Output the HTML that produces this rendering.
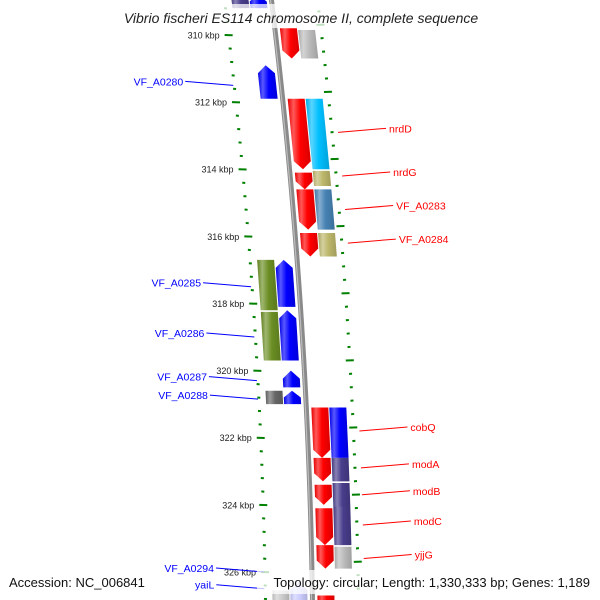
<!DOCTYPE html>
<html><head><meta charset="utf-8">
<style>
html,body{margin:0;padding:0;background:#fff;}
svg{display:block;font-family:"Liberation Sans","DejaVu Sans",sans-serif;}
</style></head>
<body>
<svg id="map" width="600" height="600" viewBox="0 0 600 600" xmlns="http://www.w3.org/2000/svg">
<defs id="defs"></defs>
<g id="backbone-layer"></g>
<g id="ticks-layer"></g>
<g id="genes-layer"></g>
<g id="labels-layer"></g>
<g id="text-layer"></g>
</svg>
<script>
// ---- data ----
const geneNames  = ["g1","g2","g3","g4","g5","g6","g7","g8","g9","g10","g11",
  "r2a","r2b","r2c","r2d","r2e","r2f","r2g","r2h","r2i","r2j",
  "l1a","l1b","l1c","l1d","l1e","l1f","l1g",
  "l2a","l2b","l2c","l2d","l2e"];
const geneStart  = [309.8,311.9,314.1,314.6,315.9,321.1,322.6,323.4,324.1,325.2,326.7,
  309.85,311.9,314.05,314.6,315.9,321.1,322.6,323.35,324.05,325.25,
  308.8,310.9,316.7,318.2,320.0,320.6,326.3,
  308.8,316.7,318.25,320.6,326.55];
const geneEnd    = [310.7,314.0,314.6,315.8,316.6,322.6,323.3,324.0,325.2,325.9,327.2,
  310.7,314.0,314.5,315.8,316.6,322.6,323.3,324.05,325.2,325.9,
  309.2,311.9,318.1,319.7,320.5,321.0,327.2,
  309.2,318.2,319.7,321.0,327.2];
const geneTrack  = [1,1,1,1,1,1,1,1,1,1,1, 2,2,2,2,2,2,2,2,2,2, -1,-1,-1,-1,-1,-1,-1, -2,-2,-2,-2,-2];
const geneStrand = [-1,-1,-1,-1,-1,-1,-1,-1,-1,-1,-1, 0,0,0,0,0,0,0,0,0,0, 1,1,1,1,1,1,1, 0,0,0,0,0];
const geneColor  = ["#ff0000","#ff0000","#ff0000","#ff0000","#ff0000","#ff0000","#ff0000","#ff0000","#ff0000","#ff0000","#ff0000",
  "#bbbbbb","#00bfff","#bdb76b","#4682b4","#bdb76b","#0000ff","#483d8b","#483d8b","#483d8b","#bbbbbb",
  "#0000ff","#0000ff","#0000ff","#0000ff","#0000ff","#0000ff","#ccccff",
  "#483d8b","#6b8e23","#6b8e23","#666666","#cccccc"];
const majorTicks = [310,312,314,316,318,320,322,324,326];
const tickLabels = ["310 kbp","312 kbp","314 kbp","316 kbp","318 kbp","320 kbp","322 kbp","324 kbp","326 kbp"];
const labelText  = ["VF_A0280","VF_A0285","VF_A0286","VF_A0287","VF_A0288","VF_A0294","yaiL",
  "nrdD","nrdG","VF_A0283","VF_A0284","cobQ","modA","modB","modC","yjjG"];
const labelKbp   = [311.5,317.5,319.0,320.3,320.85,326.0,326.5,
  312.9,314.2,315.2,316.2,321.8,322.9,323.7,324.6,325.6];
const labelSide  = [-1,-1,-1,-1,-1,-1,-1, 1,1,1,1,1,1,1,1,1];

// ---- axis functions ----
const KBP0 = 310, Y0 = 35, PX = 33.56;
function yOf(k){ return Y0 + (k-KBP0)*PX; }
function cx(y){ return 271.5 + 0.1217*y - 0.000089*y*y; }
const trackX = {"1":[5,22],"2":[23,40],"-1":[-22,-5],"-2":[-40,-23]};
const NS="http://www.w3.org/2000/svg";
function mk(tag, attrs, parent){ const e=document.createElementNS(NS,tag); for(const k in attrs) e.setAttribute(k,attrs[k]); parent.appendChild(e); return e; }
function P(dx,y){ return (cx(y)+dx).toFixed(2)+","+y.toFixed(2); }

// backbone
const bb=document.getElementById('backbone-layer');
let pts=[]; for(let y=-5;y<=605;y+=10) pts.push(P(0,y));
const bbl=mk('polyline',{points:pts.join(' '),fill:'none',stroke:'#8a8a8a','stroke-width':5},bb);


pts=[]; for(let y=-5;y<=605;y+=10) pts.push(P(-1,y));
mk('polyline',{points:pts.join(' '),fill:'none',stroke:'#bdbdbd','stroke-width':1.2},bb);

// ticks
const tl=document.getElementById('ticks-layer');
for(let k=308.8;k<=327.2;k+=0.4){
  const y=yOf(k); const isMaj = majorTicks.some(m=>Math.abs(m-k)<0.05);
  const w=isMaj?8:3;
  const t=mk('line',{x1:cx(y)-47-w/2,x2:cx(y)-47+w/2,y1:y,y2:y+0.3,stroke:'#008000','stroke-width':2},tl);
  
  
}
for(let k=308.9;k<=327.2;k+=0.4){
  const y=yOf(k); const isMaj = Math.abs(((k-311.7)%2+2)%2)<0.05 || Math.abs(((k-311.7)%2+2)%2-2)<0.05;
  const w=isMaj?8:3;
  const t=mk('line',{x1:cx(y)+46-w/2,x2:cx(y)+46+w/2,y1:y,y2:y-0.3,stroke:'#008000','stroke-width':2},tl);
  
  
}
majorTicks.forEach((m,i)=>{
  const y=yOf(m);
  const t=mk('text',{x:cx(y)-56,y:y+3.5,'text-anchor':'end','font-size':9,fill:'#222'},tl);
  t.textContent=tickLabels[i];
  
  
});

// genes
const defs=document.getElementById('defs');
function lighten(hex,a){ const n=parseInt(hex.slice(1),16); let r=n>>16,g=(n>>8)&255,b=n&255;
  r=Math.round(r+(255-r)*a); g=Math.round(g+(255-g)*a); b=Math.round(b+(255-b)*a); return `rgb(${r},${g},${b})`; }
function darken(hex,a){ const n=parseInt(hex.slice(1),16); let r=n>>16,g=(n>>8)&255,b=n&255;
  return `rgb(${Math.round(r*(1-a))},${Math.round(g*(1-a))},${Math.round(b*(1-a))})`; }
const gl=document.getElementById('genes-layer');
geneStart.forEach((s,i)=>{
  const col=geneColor[i], gid='gr'+i;
  const gr=mk('linearGradient',{id:gid,x1:0,y1:0,x2:1,y2:0},defs);
  mk('stop',{offset:0,'stop-color':darken(col,0.1)},gr);
  mk('stop',{offset:0.25,'stop-color':lighten(col,0.35)},gr);
  mk('stop',{offset:0.55,'stop-color':col},gr);
  mk('stop',{offset:1,'stop-color':darken(col,0.15)},gr);
  const y1=yOf(s), y2=yOf(geneEnd[i]); const [a,b]=trackX[geneTrack[i]];
  const head=Math.min(8,(y2-y1)*0.5), st=geneStrand[i], m=(a+b)/2;
  let p;
  if(st<0) p=[P(a,y1),P(b,y1),P(b,y2-head),P(m,y2),P(a,y2-head)];
  else if(st>0) p=[P(m,y1),P(b,y1+head),P(b,y2),P(a,y2),P(a,y1+head)];
  else p=[P(a,y1),P(b,y1),P(b,y2),P(a,y2)];
  const g=mk('polygon',{points:p.join(' '),fill:`url(#${gid})`},gl);
  
  
});

// labels
const ll=document.getElementById('labels-layer');
labelText.forEach((t,i)=>{
  const y=yOf(labelKbp[i]); const side=labelSide[i];
  const col=side<0?'#0000ff':'#ff0000';
  let x1,x2,tx,ty=y-4;
  if(side<0){ x1=cx(y)-48; x2=x1-48; tx=x2-2; }
  else { x1=cx(y)+52; x2=x1+48; tx=x2+3; }
  const ln=mk('line',{x1:x1,y1:y,x2:x2,y2:ty,stroke:col,'stroke-width':1},ll);
  
  
  const tx_=mk('text',{x:tx,y:ty+4,'text-anchor':side<0?'end':'start','font-size':10.5,fill:col},ll);
  tx_.textContent=t;
  
  
});

// text overlays
const txl=document.getElementById('text-layer');
mk('rect',{x:104,y:4,width:392,height:24,fill:'#fff','fill-opacity':0.75},txl);
mk('rect',{x:5,y:570,width:147,height:24,fill:'#fff','fill-opacity':0.75},txl);
mk('rect',{x:257,y:570,width:337,height:24,fill:'#fff','fill-opacity':0.75},txl);
const ti=mk('text',{x:301,y:23,'text-anchor':'middle','font-size':14,'font-style':'italic',fill:'#222'},txl);
ti.textContent="Vibrio fischeri ES114 chromosome II, complete sequence";


const ac=mk('text',{x:9,y:587,'font-size':13,fill:'#111'},txl);
ac.textContent="Accession: NC_006841";


const tp=mk('text',{x:590,y:587,'text-anchor':'end','font-size':13,fill:'#111'},txl);
tp.textContent="Topology: circular; Length: 1,330,333 bp; Genes: 1,189";


</script>
</body></html>
